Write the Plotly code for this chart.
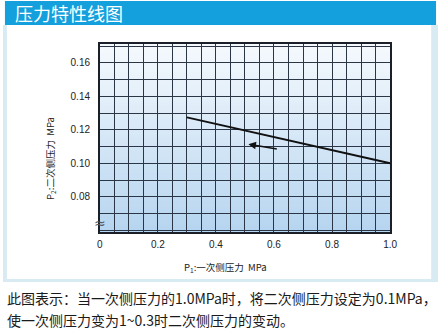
import numpy as np
import plotly.graph_objects as go

# ---- data ----
p1 = [0.3, 0.4, 0.5, 0.6, 0.7, 0.8, 0.9, 1.0]
p2 = [0.1274, 0.1235, 0.1197, 0.1158, 0.1118, 0.1078, 0.1039, 0.1000]
x_ticks = [0, 0.2, 0.4, 0.6, 0.8, 1.0]
x_tick_labels = ["0", "0.2", "0.4", "0.6", "0.8", "1.0"]
y_ticks = [0.08, 0.10, 0.12, 0.14, 0.16]
y_tick_labels = ["0.08", "0.10", "0.12", "0.14", "0.16"]
arrow_from = (0.615, 0.1084)
arrow_to = (0.512, 0.1114)

title_text = "压力特性线图"
x_title = "P<sub>1</sub>:一次侧压力  MPa"
y_title = "P<sub>2</sub>:二次侧压力  MPa"
note1 = "此图表示：当一次侧压力的1.0MPa时，将二次侧压力设定为0.1MPa，"
note2 = "使一次侧压力变为1~0.3时二次侧压力的变动。"

W, H = 445, 334
X_RANGE = [0, 1.0]
Y_RANGE = [0.059, 0.1712]
PL, PR, PT, PB = 99, 396, 44, 232


def px(x):
    return x / W


def py(y):
    return 1 - y / H


fig = go.Figure()
fig.add_trace(go.Scatter(x=p1, y=p2, mode="lines",
                         line=dict(color="#111111", width=2),
                         hoverinfo="skip", showlegend=False))

shapes = []
# outer panel
shapes.append(dict(type="rect", xref="paper", yref="paper",
                   x0=px(0), x1=px(445), y0=py(282), y1=py(25),
                   fillcolor="#d9ebf2", line=dict(width=0), layer="below"))
shapes.append(dict(type="rect", xref="paper", yref="paper",
                   x0=px(4), x1=px(438), y0=py(279), y1=py(25),
                   fillcolor="#ffffff", line=dict(width=0), layer="below"))
# title bar
shapes.append(dict(type="rect", xref="paper", yref="paper",
                   x0=px(2), x1=px(443), y0=py(25), y1=py(1),
                   fillcolor="#14a0dc", line=dict(width=0), layer="below"))

# gradient background of plot area
top_c = np.array([246, 250, 254])
bot_c = np.array([182, 213, 240])
n = 60
edges = np.linspace(Y_RANGE[0], Y_RANGE[1], n + 1)
for i in range(n):
    t = (i + 0.5) / n
    c = bot_c + (top_c - bot_c) * t
    shapes.append(dict(type="rect", xref="x", yref="y",
                       x0=X_RANGE[0], x1=X_RANGE[1],
                       y0=edges[i], y1=min(edges[i + 1] + 0.0006, Y_RANGE[1]),
                       fillcolor="rgb(%d,%d,%d)" % tuple(c.astype(int)),
                       line=dict(width=0), layer="below"))

grid_c = "#2a3646"
fig.update_layout(
    width=W, height=H,
    margin=dict(l=0, r=0, t=0, b=0),
    paper_bgcolor="white",
    plot_bgcolor="rgba(0,0,0,0)",
    shapes=shapes,
    xaxis=dict(domain=[px(PL), px(PR)], range=X_RANGE,
               tickvals=x_ticks, ticktext=x_tick_labels,
               showgrid=True, gridcolor=grid_c, gridwidth=1,
               minor=dict(tickvals=list(np.round(np.arange(0, 1.0001, 0.05), 3)),
                          showgrid=True, gridcolor=grid_c, gridwidth=1, ticks=""),
               showline=True, linecolor="#1a1f28", linewidth=1.5, mirror=True,
               ticks="", zeroline=False,
               tickfont=dict(family="Liberation Sans", size=10, color="#222"),
               ticklabelstandoff=2),
    yaxis=dict(domain=[py(PB), py(PT)], range=Y_RANGE,
               tickvals=y_ticks, ticktext=y_tick_labels,
               showgrid=True, gridcolor=grid_c, gridwidth=1,
               minor=dict(tickvals=list(np.round(np.arange(0.06, 0.1701, 0.01), 3)),
                          showgrid=True, gridcolor=grid_c, gridwidth=1, ticks=""),
               showline=True, linecolor="#1a1f28", linewidth=1.5, mirror=True,
               ticks="", zeroline=False,
               tickfont=dict(family="Liberation Sans", size=10, color="#222"),
               ticklabelstandoff=6),
)

ann = []
ann.append(dict(x=px(10), y=py(13), xref="paper", yref="paper", xanchor="left",
                yanchor="middle", text=title_text, showarrow=False,
                font=dict(family="Noto Sans CJK SC", size=18, color="white")))
ann.append(dict(x=px(228), y=py(267), xref="paper", yref="paper", xanchor="center",
                yanchor="middle", text=x_title, showarrow=False,
                font=dict(family="Noto Sans CJK SC", size=9.5, color="#222")))
ann.append(dict(x=px(48), y=py(158), xref="paper", yref="paper", xanchor="center",
                yanchor="middle", text=y_title, showarrow=False, textangle=-90,
                font=dict(family="Noto Sans CJK SC", size=9.5, color="#222")))
ann.append(dict(x=px(99), y=py(223), xref="paper", yref="paper", xanchor="center",
                yanchor="middle", text="≈", showarrow=False,
                font=dict(family="DejaVu Sans", size=14, color="#555")))
ann.append(dict(x=px(2), y=py(298), xref="paper", yref="paper", xanchor="left",
                yanchor="middle", text=note1, showarrow=False,
                font=dict(family="Noto Sans CJK SC", size=14, color="#1a1a1a")))
ann.append(dict(x=px(2), y=py(320), xref="paper", yref="paper", xanchor="left",
                yanchor="middle", text=note2, showarrow=False,
                font=dict(family="Noto Sans CJK SC", size=14, color="#1a1a1a")))
ann.append(dict(x=arrow_to[0], y=arrow_to[1], ax=arrow_from[0], ay=arrow_from[1],
                xref="x", yref="y", axref="x", ayref="y", text="",
                showarrow=True, arrowhead=2, arrowsize=1, arrowwidth=1.5,
                arrowcolor="#111111"))
fig.update_layout(annotations=ann)

fig.write_html("out.html")
